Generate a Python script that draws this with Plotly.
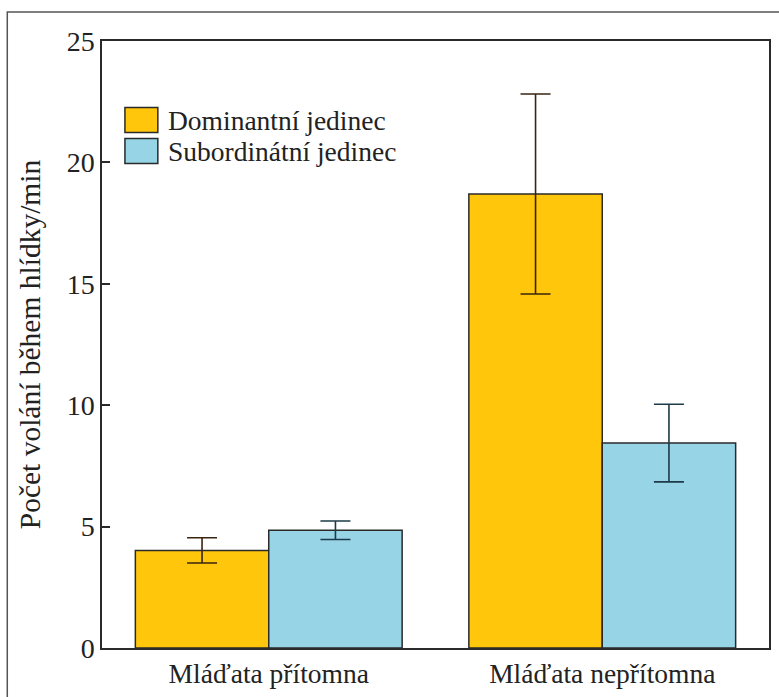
import plotly.graph_objects as go

categories = ["Mláďata přítomna", "Mláďata nepřítomna"]
series_names = ["Dominantní jedinec", "Subordinátní jedinec"]
dominant = [4.02, 18.7]
dominant_err = [0.52, 4.12]
subordinate = [4.85, 8.44]
subordinate_err = [0.38, 1.6]
y_ticks = [0, 5, 10, 15, 20, 25]

colors = ["#FFC60B", "#96D4E6"]
err_colors = ["#3a2410", "#1d3a48"]
FONT = "Liberation Serif"

fig = go.Figure()
for name, vals, errs, col, ecol in zip(series_names, [dominant, subordinate],
                                        [dominant_err, subordinate_err], colors, err_colors):
    fig.add_trace(go.Bar(
        x=categories, y=vals, name=name,
        marker=dict(color=col, line=dict(color="#2a2a2a", width=1.5)),
        error_y=dict(type="data", array=errs, visible=True, color=ecol,
                     thickness=1.6, width=15),
        showlegend=False,
    ))

# plot area pixel geometry for paper-coordinate helpers
L, R, T, B = 102, 771, 41, 648
W, H = 779, 697
def px(p):
    return (p - L) / (R - L)
def py(q):
    return (B - q) / (B - T)

shapes = []
annotations = []
# outer border of the figure
shapes.append(dict(type="rect", xref="paper", yref="paper",
                   x0=px(7), x1=px(790), y0=py(710), y1=py(12),
                   line=dict(color="#555555", width=1.5), fillcolor="rgba(0,0,0,0)"))
# manual legend
leg_y = [120, 151]
for name, col, yc in zip(series_names, colors, leg_y):
    shapes.append(dict(type="rect", xref="paper", yref="paper",
                       x0=px(125), x1=px(158), y0=py(yc + 12.5), y1=py(yc - 12.5),
                       line=dict(color="#2a2a2a", width=1.5), fillcolor=col))
    annotations.append(dict(text=name, xref="paper", yref="paper",
                            x=px(166), y=py(yc), xanchor="left", yanchor="middle",
                            showarrow=False, font=dict(family=FONT, size=27.5, color="#222222")))

fig.update_layout(
    width=W, height=H,
    margin=dict(l=L, r=W - R, t=T, b=H - B),
    paper_bgcolor="white", plot_bgcolor="white",
    barmode="group", bargap=0.2, bargroupgap=0,
    font=dict(family=FONT, size=27.5, color="#222222"),
    shapes=shapes, annotations=annotations,
    xaxis=dict(showline=True, linecolor="#2a2a2a", linewidth=1.5, mirror=True,
               ticks="", showgrid=False, tickfont=dict(family=FONT, size=27.5)),
    yaxis=dict(range=[0, 25], tickvals=y_ticks, showline=True, linecolor="#2a2a2a",
               linewidth=1.5, mirror=True, ticks="inside", ticklen=8, tickwidth=1.5,
               tickcolor="#2a2a2a", showgrid=False, zeroline=False,
               tickfont=dict(family=FONT, size=28),
               title=dict(text="Počet volání během hlídky/min",
                          font=dict(family=FONT, size=29.5), standoff=17)),
)
fig.write_html("out.html")
